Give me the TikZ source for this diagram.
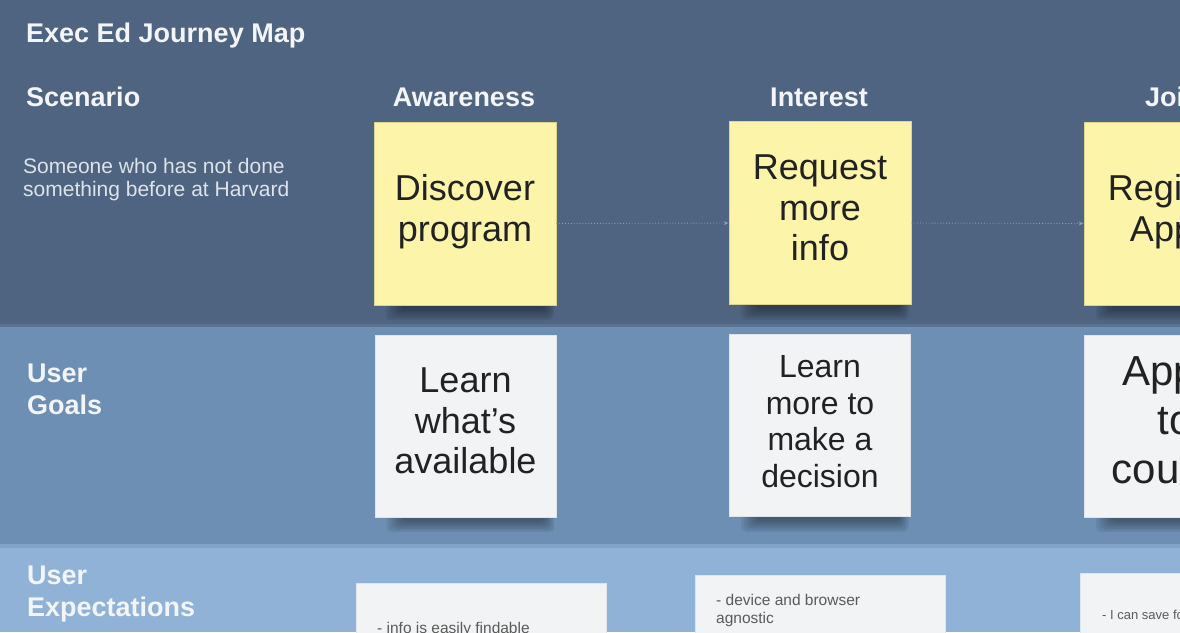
\documentclass[tikz,border=0pt]{standalone}
\usepackage{fontspec}
\setmainfont{Liberation Sans}
\usetikzlibrary{arrows.meta}
\pgfdeclarelayer{bg}
\pgfsetlayers{bg,main}
\definecolor{bandA}{HTML}{4E6480}
\definecolor{sepA}{HTML}{5A7190}
\definecolor{bandB}{HTML}{6C8FB3}
\definecolor{sepB}{HTML}{80A3C7}
\definecolor{bandC}{HTML}{8FB2D6}
\definecolor{stickyY}{HTML}{FBF4A9}
\definecolor{stickyYedge}{HTML}{DCD48E}
\definecolor{stickyW}{HTML}{F2F3F5}
\definecolor{stickyWedge}{HTML}{E0E4EA}
\definecolor{headtxt}{HTML}{F3F5F8}
\definecolor{subtxt}{HTML}{DDE3EA}
\definecolor{notetxt}{HTML}{222222}
\definecolor{smalltxt}{HTML}{5A5A5A}
\definecolor{arrowc}{HTML}{8A9CB6}
\begin{document}
\begin{tikzpicture}[x=1pt,y=-1pt,
  head/.style={font=\fontsize{27}{32}\selectfont\bfseries, text=headtxt, inner sep=0pt, align=left},
  subtext/.style={font=\fontsize{21}{23}\selectfont, text=subtxt, inner sep=0pt, align=left},
  yellownote/.style={draw=stickyYedge, line width=0.8pt, fill=stickyY, minimum width=182pt, minimum height=183pt, inner sep=0pt},
  whitenote/.style={draw=stickyWedge, line width=0.8pt, fill=stickyW, minimum width=181pt, minimum height=182pt, inner sep=0pt},
  notetext/.style={inner sep=0pt, align=center, text=notetxt, font=\fontsize{36}{40.5}\selectfont},
  smallnote/.style={draw=stickyWedge, line width=0.8pt, fill=stickyW, minimum width=250pt, minimum height=130pt, inner sep=0pt},
  smalltext/.style={font=\fontsize{15.5}{18}\selectfont, text=smalltxt, inner sep=0pt, align=left},
  flow/.style={draw=arrowc, line width=0.9pt, dotted, -{Stealth[length=5pt,width=4pt]}},
  shadowpiece/.style={fill=black, opacity=.06, rounded corners=5pt},
]
\useasboundingbox (0,0) rectangle (1180,632);
\clip (0,0) rectangle (1180,632);

% bands
\begin{pgfonlayer}{bg}
\fill[bandA] (0,0) rectangle (1180,324);
\fill[sepA] (0,324) rectangle (1180,327);
\fill[bandB] (0,327) rectangle (1180,544);
\fill[sepB] (0,544) rectangle (1180,548);
\fill[bandC] (0,548) rectangle (1180,632);
\end{pgfonlayer}

% left labels
\node[head, anchor=west] (title) at (26,36) {Exec Ed Journey Map};
\node[head, anchor=west] (scen) at (26,97) {Scenario};
\node[subtext, anchor=north west] (desc) at (23,158) {Someone who has not done\\something before at Harvard};
\node[head, anchor=north west] (goals) at (27,364) {User\\Goals};
\node[head, anchor=north west] (expect) at (27,566) {User\\Expectations};

% stage headings
\node[head] (aw) at (464,97) {Awareness};
\node[head] (in) at (819,97) {Interest};
\node[head, anchor=west] (jo) at (1145,97) {Join};

% yellow notes
\node[yellownote] (y1) at (465,213.5) {};
\node[yellownote] (y2) at (820,213) {};
\node[yellownote] (y3) at (1175,213.5) {};
\node[notetext] (y1t) at ([yshift=2pt]y1.center) {Discover\\program};
\node[notetext] (y2t) at ([yshift=5pt]y2.center) {Request\\more\\info};
\node[notetext] (y3t) at ([yshift=2pt]y3.center) {Register\\Apply};

% white goal notes
\node[whitenote] (w1) at (465.5,426) {};
\node[whitenote] (w2) at (820,425.5) {};
\node[whitenote] (w3) at (1175,426) {};
\node[notetext] (w1t) at ([yshift=5pt]w1.center) {Learn\\what's\\available};
\node[notetext, font=\fontsize{32}{36.5}\selectfont] (w2t) at ([yshift=4pt]w2.center) {Learn\\more to\\make a\\decision};
\node[notetext, font=\fontsize{42}{49}\selectfont] (w3t) at ([yshift=7pt]w3.center) {Apply\\to\\course};

% shadows
\begin{pgfonlayer}{bg}
\foreach \n in {y1,y2,y3,w1,w2,w3}{
  \foreach \k in {0,...,6}{
    \path[shadowpiece] ([xshift={12pt+2.5pt*\k},yshift=6pt]\n.south west) rectangle ([xshift={-2pt-1.5pt*\k},yshift={-15pt+1.8pt*\k}]\n.south east);
  }
}
\end{pgfonlayer}

% expectation notes
\node[smallnote, anchor=north west] (e1) at (356,583) {};
\node[smallnote, anchor=north west] (e2) at (695,575) {};
\node[smallnote, anchor=north west] (e3) at (1080,573) {};
\node[smalltext, anchor=west] (t1) at (377,629) {- info is easily findable};
\node[smalltext, anchor=north west] (t2) at (716,594) {- device and browser\\agnostic};
\node[smalltext, font=\fontsize{13}{15}\selectfont, anchor=west] (t3) at (1102,615) {- I can save for later};

% flow arrows
\draw[flow] ([yshift=-10pt]y1.east) -- ([yshift=-10pt]y2.west);
\draw[flow] ([yshift=-10pt]y2.east) -- ([yshift=-10pt]y3.west);
\end{tikzpicture}
\end{document}
